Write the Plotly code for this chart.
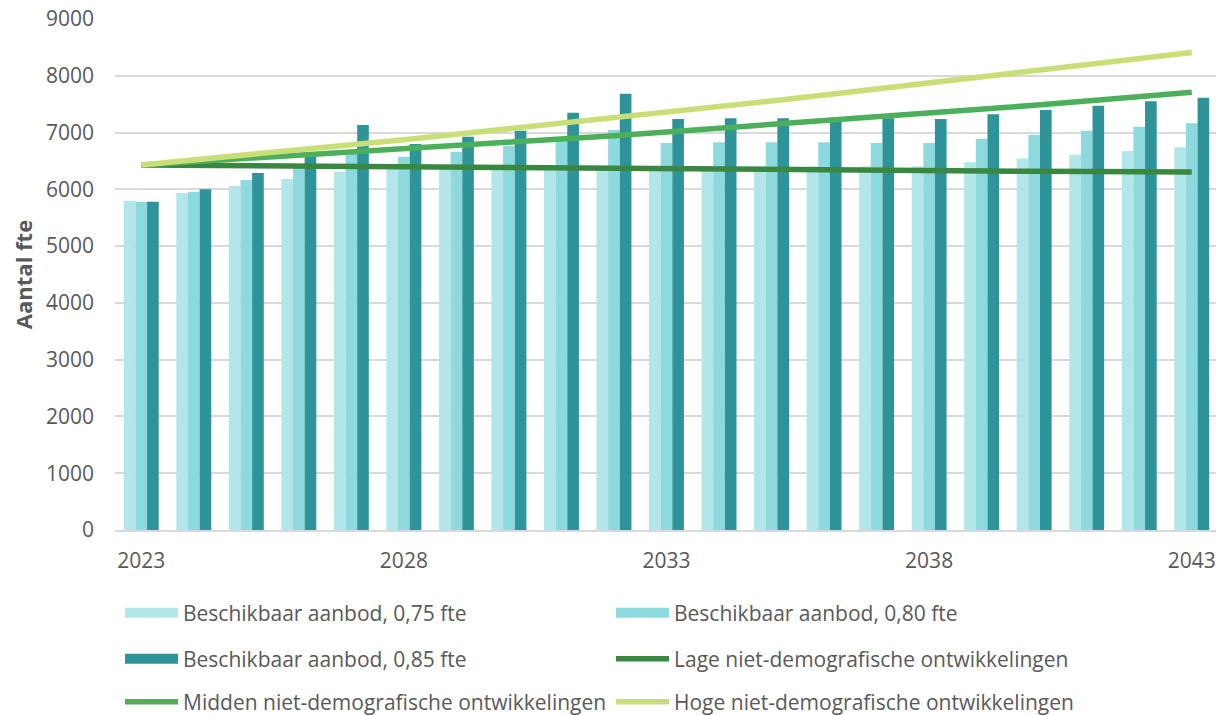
import plotly.graph_objects as go

years = list(range(2023, 2044))

aanbod_075 = [5800, 5935, 6058, 6182, 6311, 6370, 6380, 6390, 6395, 6400, 6400,
              6400, 6400, 6400, 6400, 6400, 6475, 6545, 6610, 6675, 6740]
aanbod_080 = [5783, 5958, 6164, 6390, 6690, 6575, 6663, 6763, 6869, 7045, 6815,
              6828, 6828, 6828, 6815, 6815, 6892, 6962, 7033, 7103, 7162]
aanbod_085 = [5783, 6000, 6287, 6580, 7133, 6798, 6927, 7033, 7350, 7685, 7238,
              7250, 7250, 7232, 7250, 7238, 7321, 7397, 7473, 7550, 7614]

lage = [6430, 6422, 6414, 6406, 6398, 6390, 6382, 6374, 6366, 6358, 6350,
        6345, 6341, 6336, 6332, 6327, 6323, 6318, 6314, 6309, 6305]
midden = [6430, 6485, 6540, 6595, 6650, 6710, 6765, 6825, 6885, 6945, 7010,
          7075, 7140, 7205, 7275, 7340, 7410, 7480, 7555, 7630, 7710]
hoge = [6430, 6515, 6605, 6695, 6785, 6875, 6970, 7065, 7160, 7255, 7355,
        7455, 7555, 7660, 7765, 7870, 7975, 8085, 8195, 8305, 8410]

tick_years = [2023, 2028, 2033, 2038, 2043]

names_bar = ["Beschikbaar aanbod, 0,75 fte", "Beschikbaar aanbod, 0,80 fte",
             "Beschikbaar aanbod, 0,85 fte"]
names_line = ["Lage niet-demografische ontwikkelingen",
              "Midden niet-demografische ontwikkelingen",
              "Hoge niet-demografische ontwikkelingen"]

bar_colors = ["#b3e6e8", "#8ed9dd", "#2e9499"]
line_colors = ["#3a8742", "#4cb05b", "#c8df78"]

FONT = "Open Sans"
GREY = "#595959"
FS = 21

# page body has an 8px default margin; size the figure to fit the window
W, H = 1216, 707
OFF = 8

fig = go.Figure()

for vals, name, col in zip([aanbod_075, aanbod_080, aanbod_085], names_bar, bar_colors):
    fig.add_trace(go.Bar(x=years, y=vals, name=name, marker=dict(color=col, line=dict(width=0)),
                         showlegend=False))

for vals, name, col in zip([lage, midden, hoge], names_line, line_colors):
    fig.add_trace(go.Scatter(x=years, y=vals, name=name, mode="lines",
                             line=dict(color=col, width=5.5), showlegend=False))

legend_items = [
    (names_bar[0], bar_colors[0], 15, "legend"),
    (names_bar[1], bar_colors[1], 15, "legend"),
    (names_bar[2], bar_colors[2], 15, "legend2"),
    (names_line[0], line_colors[0], 5.5, "legend2"),
    (names_line[1], line_colors[1], 5.5, "legend3"),
    (names_line[2], line_colors[2], 5.5, "legend3"),
]
for name, col, w, lg in legend_items:
    fig.add_trace(go.Scatter(x=[None], y=[None], name=name, mode="lines",
                             line=dict(color=col, width=w), legend=lg, showlegend=True))

def leg(py):
    return dict(orientation="h", xref="container", yref="container",
                x=(120 - OFF) / W, xanchor="left", y=1 - (py - OFF) / H, yanchor="middle",
                entrywidth=423, entrywidthmode="pixels", itemwidth=53,
                font=dict(family=FONT, size=FS, color=GREY),
                bgcolor="rgba(0,0,0,0)", itemclick=False)

fig.update_layout(
    width=W, height=H,
    margin=dict(l=115 - OFF, r=6, t=19 - OFF, b=185, autoexpand=False),
    paper_bgcolor="white", plot_bgcolor="white",
    barmode="group", bargap=0.335, bargroupgap=0,
    font=dict(family=FONT, size=FS, color=GREY),
    legend=leg(613),
    legend2=leg(659),
    legend3=leg(702),
    xaxis=dict(range=[2022.5, 2043.5], tickmode="array", tickvals=tick_years,
               ticktext=[str(t) for t in tick_years], showgrid=False,
               showline=True, linecolor="#d9d9d9", linewidth=2, ticks="",
               ticklabelstandoff=11, ticklabeloverflow="allow",
               tickfont=dict(family=FONT, size=FS, color=GREY),
               zeroline=False),
    yaxis=dict(range=[0, 9000], dtick=1000, showgrid=True, gridcolor="#d9d9d9",
               gridwidth=1.5, zeroline=False, ticks="", ticklabelstandoff=20,
               ticklabeloverflow="allow",
               tickfont=dict(family=FONT, size=FS, color=GREY),
               title=dict(text="<b>Aantal fte</b>", font=dict(family=FONT, size=22, color=GREY),
                          standoff=7)),
)

fig.write_html("out.html")
